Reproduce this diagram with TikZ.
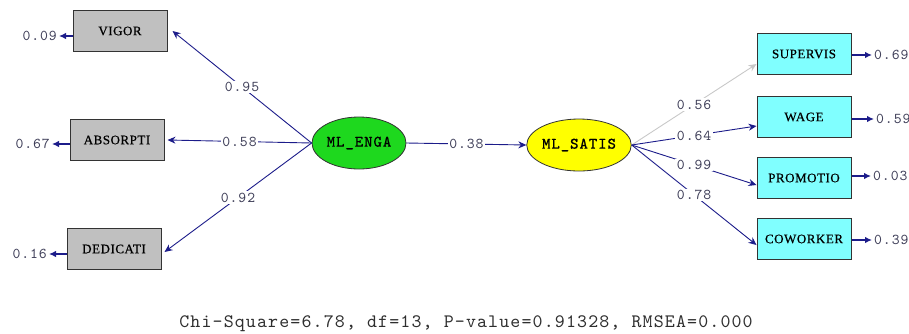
\documentclass[tikz,border=0pt]{standalone}
\usepackage{fontspec}
\setmainfont{Liberation Serif}
% typewriter face with the wide spacing of the plotted numbers
\newfontfamily\spacedmono[Extension=.otf, LetterSpace=6]{lmmono10-regular}
\newfontfamily\heavymono[Extension=.otf, LetterSpace=6, FakeBold=1]{lmmono10-regular}
\newfontfamily\boxfont[FakeBold=0.5, LetterSpace=4]{Liberation Serif}
\usetikzlibrary{arrows.meta,shapes.geometric,calc}

\definecolor{pathblue}{HTML}{1C1C8A}
\definecolor{fadegray}{HTML}{C8C8C8}
\definecolor{obsgray}{HTML}{C0C0C0}
\definecolor{obscyan}{HTML}{80FFFF}
\definecolor{latgreen}{HTML}{1ED81E}
\definecolor{latyellow}{HTML}{FFFF00}
\definecolor{numcol}{HTML}{3E3E58}
\definecolor{fitcol}{HTML}{2E2E2E}

\begin{document}
\begin{tikzpicture}[x=1pt,y=-1pt,
  obs/.style={draw=black!80, line width=1pt, minimum width=94pt, minimum height=41pt,
    inner sep=0pt, font=\boxfont\fontsize{13}{13}\selectfont},
  lat/.style={ellipse, draw=black!80, line width=0.8pt, minimum width=94pt, minimum height=52pt,
    inner sep=0pt, font=\heavymono\fontsize{16}{16}\selectfont},
  load/.style={draw=pathblue, line width=0.9pt, -{Stealth[length=8pt,width=7pt]}},
  err/.style={draw=pathblue, line width=1.3pt, -{Latex[length=7pt,width=6.5pt]}},
  coef/.style={fill=white, inner sep=1.5pt, text=numcol, font=\spacedmono\fontsize{15}{15}\selectfont},
  evar/.style={inner sep=0pt, text=numcol, font=\spacedmono\fontsize{15}{15}\selectfont},
]
\useasboundingbox (0,0) rectangle (909,333);

% observed indicators of engagement
\node[obs, fill=obsgray] (vig) at (120,31) {VIGOR};
\node[obs, fill=obsgray] (abs) at (117,140) {ABSORPTI};
\node[obs, fill=obsgray] (ded) at (114,249) {DEDICATI};

% latent variables
\node[lat, fill=latgreen] (eng) at (359,143) {ML\_ENGA};
\node[lat, fill=latyellow] (sat) at (579,145) {ML\_SATIS};

% observed indicators of satisfaction
\node[obs, fill=obscyan] (sup) at (804,54) {SUPERVIS};
\node[obs, fill=obscyan] (wag) at (804,117) {WAGE};
\node[obs, fill=obscyan] (pro) at (804,178) {PROMOTIO};
\node[obs, fill=obscyan] (cow) at (804,239) {COWORKER};

% loadings on engagement
\draw[load] (eng.west) -- node[coef]{0.95} ([xshift=5pt]vig.east);
\draw[load] (eng.west) -- node[coef]{0.58} ([xshift=3pt]abs.east);
\draw[load] (eng.west) -- node[coef]{0.92} ([xshift=3pt,yshift=-3pt]ded.east);

% structural path
\draw[load] (eng.east) -- node[coef]{0.38} (sat.west);

% loadings on satisfaction
\draw[load, draw=fadegray] (sat.east) -- node[coef]{0.56} ([yshift=-10pt]sup.west);
\draw[load] (sat.east) -- node[coef]{0.64} ([yshift=-9pt]wag.west);
\draw[load] (sat.east) -- node[coef]{0.99} ([yshift=-7pt]pro.west);
\draw[load] (sat.east) -- node[coef]{0.78} ([yshift=-6pt]cow.west);

% error variances
\node[evar, anchor=east] (e1) at (57,36) {0.09};
\node[evar, anchor=east] (e2) at (50,144) {0.67};
\node[evar, anchor=east] (e3) at (47,254) {0.16};
\node[evar, anchor=west] (e4) at (874,55) {0.69};
\node[evar, anchor=west] (e5) at (876,119) {0.59};
\node[evar, anchor=west] (e6) at (873,176) {0.03};
\node[evar, anchor=west] (e7) at (874,240) {0.39};

\draw[err] (vig.west |- e1.east) -- ([xshift=2pt]e1.east);
\draw[err] (abs.west |- e2.east) -- ([xshift=2pt]e2.east);
\draw[err] (ded.west |- e3.east) -- ([xshift=2pt]e3.east);
\draw[err] (sup.east |- e4.west) -- ([xshift=-2pt]e4.west);
\draw[err] (wag.east |- e5.west) -- ([xshift=-2pt]e5.west);
\draw[err] (pro.east |- e6.west) -- ([xshift=-2pt]e6.west);
\draw[err] (cow.east |- e7.west) -- ([xshift=-2pt]e7.west);

% fit statistics
\node[text=fitcol, font=\spacedmono\fontsize{19}{19}\selectfont] (fit) at (466,324)
  {Chi-Square=6.78, df=13, P-value=0.91328, RMSEA=0.000};
\end{tikzpicture}
\end{document}
